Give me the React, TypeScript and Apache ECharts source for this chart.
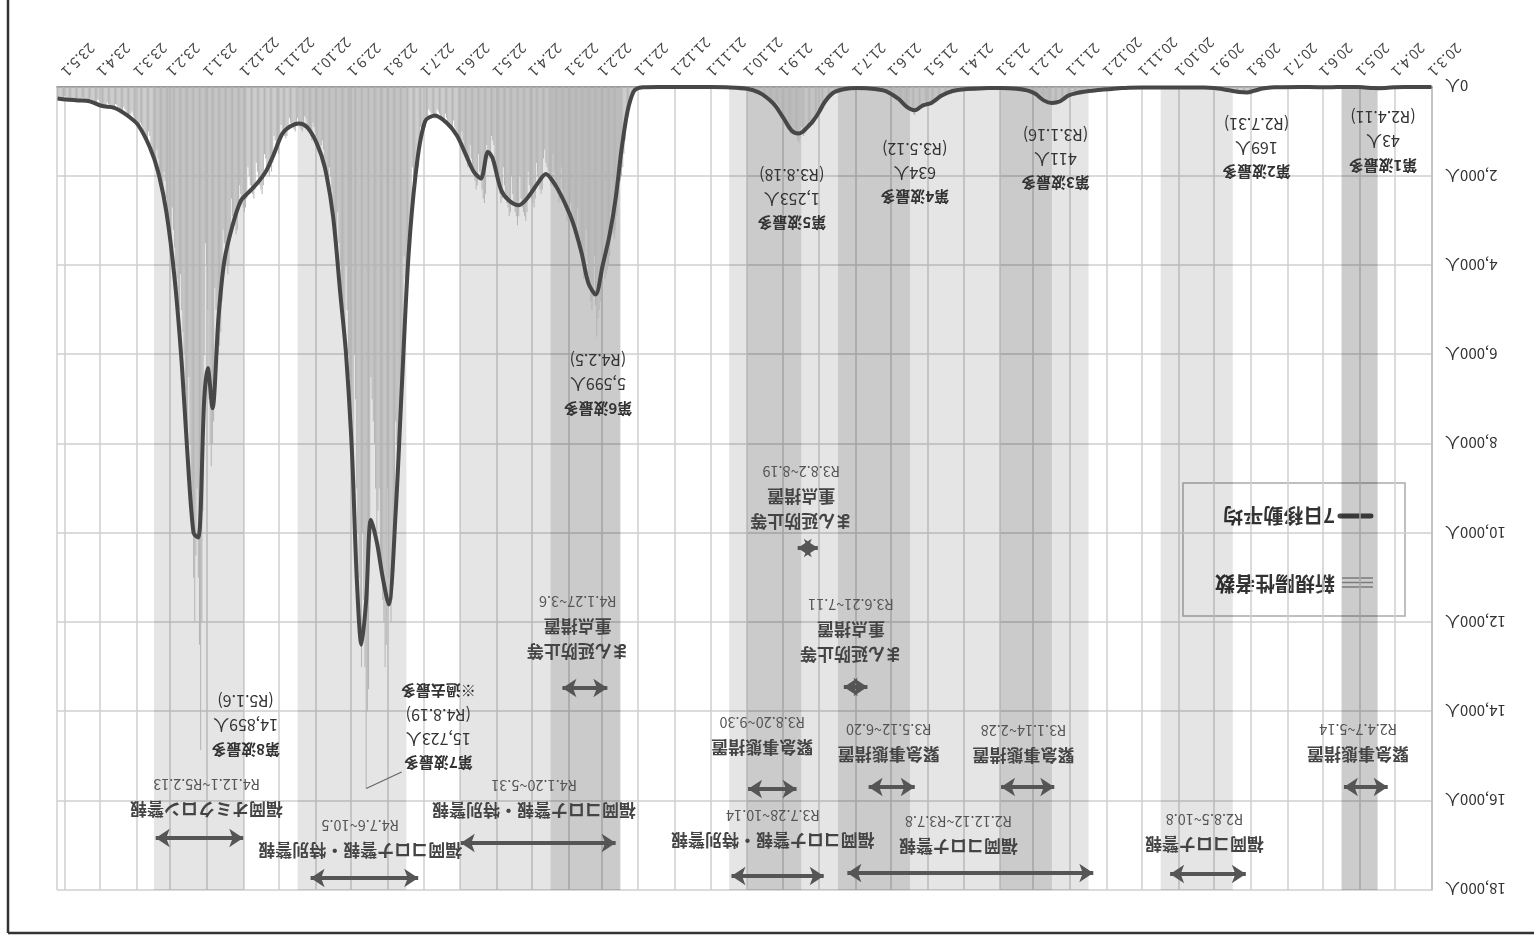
import React, { useEffect, useRef } from "react";
import * as echarts from "echarts";

// ---------- axis range ----------
const START_DATE = "2020-03-01";
const END_DATE = "2023-05-07";
const Y_MAX = 18000;
const Y_STEP = 2000;

// ---------- daily new cases (新規陽性者数), one array per month ----------
const c2020_03 = [0,0,0,0,0,1,0,0,0,1,0,0,0,1,0,0,0,0,1,2,1,0,1,0,2,3,2,4,3,2,6];
const c2020_04 = [10,15,20,18,25,22,30,28,35,38,43,30,20,25,28,22,18,20,15,12,14,10,8,9,6,5,4,3,2,3];
const c2020_05 = [2,1,1,0,1,0,0,1,0,0,0,0,0,0,0,0,0,0,0,0,0,0,2,5,8,12,10,8,6,5,4];
const c2020_06 = [3,4,6,5,3,2,2,3,4,3,2,2,1,1,0,2,1,1,0,0,1,1,0,0,1,0,1,1,2,1];
const c2020_07 = [1,2,1,2,3,2,4,5,6,5,8,10,12,9,15,20,25,22,30,40,38,45,55,60,70,80,90,110,120,140,169];
const c2020_08 = [150,130,125,140,120,110,130,115,90,70,95,100,85,80,75,70,55,60,65,50,45,40,35,42,30,28,25,30,22,18,20];
const c2020_09 = [15,12,18,10,8,12,9,6,10,12,8,7,5,9,8,6,10,12,8,6,5,7,9,10,8,7,6,8,9,10];
const c2020_10 = [8,12,10,6,8,11,9,14,10,12,8,7,13,11,15,12,9,10,14,12,11,10,8,13,9,12,10,16,14,11,12];
const c2020_11 = [9,8,12,15,18,14,12,10,16,20,22,18,25,20,18,22,28,30,35,32,30,28,40,45,50,55,48,42,38,50];
const c2020_12 = [60,72,65,55,58,50,62,78,80,75,70,85,82,90,95,105,100,110,115,108,120,130,125,140,155,150,135,145,160,170,180];
const c2021_01 = [200,220,210,180,250,300,320,340,350,360,280,320,380,400,405,411,330,280,300,310,290,250,220,200,180,160,150,140,120,110,100];
const c2021_02 = [80,90,85,75,70,60,55,50,60,45,40,38,35,42,30,28,35,32,26,24,22,28,20,18,22,25,20,18];
const c2021_03 = [15,20,22,18,25,28,24,20,30,26,32,28,35,30,25,28,36,40,35,30,38,42,45,40,35,48,50,55,52,48,60];
const c2021_04 = [58,65,70,62,55,80,90,85,100,110,95,120,130,150,160,180,200,190,230,260,280,300,320,350,330,360,390,400,380,420];
const c2021_05 = [400,380,350,330,420,450,480,500,470,520,550,634,600,560,520,480,400,420,380,350,320,300,260,240,220,200,180,160,150,130,120];
const c2021_06 = [110,100,95,85,80,70,65,60,55,50,45,48,40,38,35,32,30,35,28,25,24,22,26,20,22,24,20,25,28,30];
const c2021_07 = [30,35,38,40,32,35,45,50,55,48,42,60,70,80,95,100,110,130,120,150,180,220,250,280,260,320,400,480,520,560,600];
const c2021_08 = [620,580,700,750,800,850,820,780,760,900,950,1000,1050,1100,950,900,1150,1253,1200,1100,1050,1000,900,950,1050,1000,880,800,700,650,600];
const c2021_09 = [550,520,500,420,380,350,400,380,330,300,280,250,200,220,190,160,150,130,110,100,90,85,75,70,60,55,50,45,40,35];
const c2021_10 = [30,25,22,20,18,16,15,14,12,10,11,9,8,10,8,7,6,5,6,4,5,4,3,4,3,2,3,2,1,2,1];
const c2021_11 = [1,2,1,0,1,2,1,0,1,1,2,0,1,0,1,2,1,0,1,1,0,2,1,1,0,1,2,1,0,1];
const c2021_12 = [1,0,1,2,1,0,1,1,2,1,0,1,2,1,1,0,2,1,1,2,3,2,4,3,5,6,8,10,15,20,30];
const c2022_01 = [25,30,40,80,150,250,350,400,500,700,900,1200,1500,1800,2000,2100,1800,2500,2900,3200,3400,3300,3000,2800,3800,4000,4100,4200,4300,3900,3500];
const c2022_02 = [4400,4800,5000,5200,5599,4900,3800,4700,5000,4800,4500,4200,3900,3200,4100,4300,4000,3700,3400,3300,2700,3200,3400,3300,3100,2900,2600,2300];
const c2022_03 = [2900,3000,2800,2700,2500,2300,1800,2500,2600,2400,2300,2100,1900,1500,2100,2200,2100,1900,1800,1700,1400,1600,2300,2400,2300,2200,2000,1700,2500,2700,2600];
const c2022_04 = [2500,2400,2200,1900,2800,3000,2900,2800,2700,2500,2000,2900,3100,2900,2800,2600,2400,2000,2800,2900,2700,2600,2400,2200,1800,2500,2600,2400,2200,2000];
const c2022_05 = [1800,1600,1300,1200,1100,1500,1600,1400,1300,2400,2600,2500,2300,2100,1900,1500,2200,2300,2100,1900,1800,1600,1300,1700,1800,1600,1500,1400,1200,1000,1300];
const c2022_06 = [1300,1200,1100,1000,900,750,1000,950,900,850,800,700,600,800,750,700,650,600,550,500,700,700,650,600,600,550,500,700,800,900];
const c2022_07 = [1000,1100,1000,900,1500,1800,1900,2000,2200,2100,1800,3000,3500,4000,4200,4500,4300,3800,6000,7000,7500,8000,8500,8000,7500,10500,11000,11500,12000,11500,11000];
const c2022_08 = [9000,12500,13000,12000,11500,11000,10500,9000,9500,10000,9000,8000,7500,7000,6500,10000,13500,14000,15723,13000,11500,10000,13000,12500,11000,10000,9000,7000,6000,9000,8500];
const c2022_09 = [7500,6500,6000,5000,4000,6000,5500,5000,4500,4000,3500,2800,3500,3300,3000,2700,2300,2000,1800,2200,2000,1900,1600,1400,1200,1300,1500,1400,1200,1100];
const c2022_10 = [1000,900,800,1200,1100,1000,950,900,700,650,900,1000,950,900,850,700,800,1000,950,900,850,800,700,900,1100,1150,1100,1050,1000,850,1200];
const c2022_11 = [1500,1400,1300,1200,1100,1700,1900,1800,2000,1900,1800,1600,1500,2200,2400,2300,2200,2100,1900,1700,2300,2500,2400,2300,2200,2000,1800,2500,2700,2800];
const c2022_12 = [2700,2600,2400,2200,2800,3200,3300,3100,3000,2900,2500,3400,4000,4200,4000,3800,3500,3200,4800,5500,5800,6000,5500,5000,4500,7500,8000,8500,8000,7000,5000];
const c2023_01 = [4000,3500,6000,9500,12000,14859,12500,11000,9000,10500,12000,11000,10000,9000,8000,6500,8000,7500,6800,6000,5500,5000,4200,5000,4800,4300,4000,3600,3200,2700,3500];
const c2023_02 = [3300,3000,2800,2500,2100,1900,2500,2300,2100,1900,1600,1400,1800,1700,1600,1400,1300,1100,1000,1300,1200,1100,1000,900,850,800,900,850];
const c2023_03 = [800,750,700,650,550,600,700,650,600,550,500,450,550,600,550,500,450,400,380,450,500,480,450,420,380,350,400,450,420,400,380];
const c2023_04 = [350,300,280,350,380,360,340,300,260,320,350,330,310,290,260,240,300,340,330,310,290,270,250,300,330,320,300,280,240,220];
const c2023_05 = [200,250,260,240,220,300,280];

const monthlyCases: [string, number[]][] = [
  ["2020-03", c2020_03], ["2020-04", c2020_04], ["2020-05", c2020_05], ["2020-06", c2020_06],
  ["2020-07", c2020_07], ["2020-08", c2020_08], ["2020-09", c2020_09], ["2020-10", c2020_10],
  ["2020-11", c2020_11], ["2020-12", c2020_12], ["2021-01", c2021_01], ["2021-02", c2021_02],
  ["2021-03", c2021_03], ["2021-04", c2021_04], ["2021-05", c2021_05], ["2021-06", c2021_06],
  ["2021-07", c2021_07], ["2021-08", c2021_08], ["2021-09", c2021_09], ["2021-10", c2021_10],
  ["2021-11", c2021_11], ["2021-12", c2021_12], ["2022-01", c2022_01], ["2022-02", c2022_02],
  ["2022-03", c2022_03], ["2022-04", c2022_04], ["2022-05", c2022_05], ["2022-06", c2022_06],
  ["2022-07", c2022_07], ["2022-08", c2022_08], ["2022-09", c2022_09], ["2022-10", c2022_10],
  ["2022-11", c2022_11], ["2022-12", c2022_12], ["2023-01", c2023_01], ["2023-02", c2023_02],
  ["2023-03", c2023_03], ["2023-04", c2023_04], ["2023-05", c2023_05],
];

// ---------- 7-day moving average (7日移動平均), read at sample dates ----------
const movingAverage: [string, number][] = [
  ["2020-03-01", 0], ["2020-03-20", 1], ["2020-03-31", 5], ["2020-04-07", 18], ["2020-04-14", 30],
  ["2020-04-21", 20], ["2020-04-28", 8], ["2020-05-07", 1], ["2020-05-20", 0], ["2020-05-28", 6],
  ["2020-06-05", 4], ["2020-06-20", 1], ["2020-07-05", 3], ["2020-07-15", 12], ["2020-07-22", 35],
  ["2020-07-29", 85], ["2020-08-04", 125], ["2020-08-11", 110], ["2020-08-18", 80], ["2020-08-25", 45],
  ["2020-09-01", 25], ["2020-09-15", 9], ["2020-10-01", 9], ["2020-10-15", 11], ["2020-11-01", 12],
  ["2020-11-15", 20], ["2020-11-25", 40], ["2020-12-05", 62], ["2020-12-15", 90], ["2020-12-25", 130],
  ["2021-01-02", 190], ["2021-01-09", 320], ["2021-01-16", 360], ["2021-01-23", 300], ["2021-01-30", 150],
  ["2021-02-06", 75], ["2021-02-15", 40], ["2021-02-28", 22], ["2021-03-15", 30], ["2021-03-31", 48],
  ["2021-04-10", 90], ["2021-04-20", 200], ["2021-04-28", 360], ["2021-05-05", 410], ["2021-05-12", 520],
  ["2021-05-19", 440], ["2021-05-26", 260], ["2021-06-05", 100], ["2021-06-15", 45], ["2021-06-30", 25],
  ["2021-07-10", 45], ["2021-07-20", 130], ["2021-07-27", 330], ["2021-08-03", 650], ["2021-08-10", 880],
  ["2021-08-18", 1040], ["2021-08-24", 980], ["2021-08-31", 700], ["2021-09-07", 420], ["2021-09-14", 240],
  ["2021-09-21", 120], ["2021-09-30", 45], ["2021-10-15", 10], ["2021-11-01", 2], ["2021-12-01", 1],
  ["2021-12-25", 5], ["2022-01-01", 25], ["2022-01-05", 110], ["2022-01-10", 550], ["2022-01-15", 1400],
  ["2022-01-20", 2500], ["2022-01-25", 3300], ["2022-01-31", 4000], ["2022-02-06", 4650], ["2022-02-12", 4400],
  ["2022-02-18", 3700], ["2022-02-25", 3050], ["2022-03-04", 2600], ["2022-03-12", 2200], ["2022-03-20", 1950],
  ["2022-03-28", 2200], ["2022-04-05", 2500], ["2022-04-12", 2650], ["2022-04-20", 2550], ["2022-04-27", 2300],
  ["2022-05-04", 1600], ["2022-05-08", 1450], ["2022-05-14", 2050], ["2022-05-20", 1900], ["2022-05-27", 1500],
  ["2022-06-03", 1100], ["2022-06-12", 800], ["2022-06-22", 640], ["2022-06-30", 760], ["2022-07-07", 1700],
  ["2022-07-14", 3700], ["2022-07-20", 6800], ["2022-07-25", 9500], ["2022-07-31", 11600], ["2022-08-05", 11000],
  ["2022-08-10", 10200], ["2022-08-15", 9700], ["2022-08-19", 11500], ["2022-08-23", 12500], ["2022-08-27", 11000],
  ["2022-08-31", 8200], ["2022-09-05", 6000], ["2022-09-10", 4600], ["2022-09-16", 2900], ["2022-09-23", 1800],
  ["2022-09-30", 1250], ["2022-10-08", 900], ["2022-10-15", 820], ["2022-10-22", 880], ["2022-10-29", 1050],
  ["2022-11-05", 1500], ["2022-11-12", 1900], ["2022-11-19", 2150], ["2022-11-26", 2350], ["2022-12-03", 2550],
  ["2022-12-10", 3100], ["2022-12-17", 3900], ["2022-12-22", 5200], ["2022-12-27", 7200], ["2022-12-31", 6300],
  ["2023-01-03", 7000], ["2023-01-08", 10100], ["2023-01-12", 10000], ["2023-01-17", 8300], ["2023-01-22", 6200],
  ["2023-01-28", 4300], ["2023-02-04", 2800], ["2023-02-11", 1900], ["2023-02-18", 1350], ["2023-02-28", 850],
  ["2023-03-10", 620], ["2023-03-20", 470], ["2023-03-31", 420], ["2023-04-10", 320], ["2023-04-20", 300],
  ["2023-04-30", 280], ["2023-05-07", 260],
];

// ---------- periods ----------
const alertPeriods = [
  { title: ["福岡コロナ警報"], range: "R2.8.5~10.8", start: "2020-08-05", end: "2020-10-08" },
  { title: ["福岡コロナ警報"], range: "R2.12.12~R3.7.8", start: "2020-12-12", end: "2021-07-08" },
  { title: ["福岡コロナ警報・特別警報"], range: "R3.7.28~10.14", start: "2021-07-28", end: "2021-10-14" },
  { title: ["福岡コロナ警報・特別警報"], range: "R4.1.20~5.31", start: "2022-01-20", end: "2022-05-31" },
  { title: ["福岡コロナ警報・特別警報"], range: "R4.7.6~10.5", start: "2022-07-06", end: "2022-10-05" },
  { title: ["福岡オミクロン警報"], range: "R4.12.1~R5.2.13", start: "2022-12-01", end: "2023-02-13" },
];
const measurePeriods = [
  { title: ["緊急事態措置"], range: "R2.4.7~5.14", start: "2020-04-07", end: "2020-05-14" },
  { title: ["緊急事態措置"], range: "R3.1.14~2.28", start: "2021-01-14", end: "2021-02-28" },
  { title: ["緊急事態措置"], range: "R3.5.12~6.20", start: "2021-05-12", end: "2021-06-20" },
  { title: ["まん延防止等", "重点措置"], range: "R3.6.21~7.11", start: "2021-06-21", end: "2021-07-11" },
  { title: ["まん延防止等", "重点措置"], range: "R3.8.2~8.19", start: "2021-08-02", end: "2021-08-19" },
  { title: ["緊急事態措置"], range: "R3.8.20~9.30", start: "2021-08-20", end: "2021-09-30" },
  { title: ["まん延防止等", "重点措置"], range: "R4.1.27~3.6", start: "2022-01-27", end: "2022-03-06" },
];
const waveRecords = [
  { lines: ["第1波最多", "43人", "(R2.4.11)"] },
  { lines: ["第2波最多", "169人", "(R2.7.31)"] },
  { lines: ["第3波最多", "411人", "(R3.1.16)"] },
  { lines: ["第4波最多", "634人", "(R3.5.12)"] },
  { lines: ["第5波最多", "1,253人", "(R3.8.18)"] },
  { lines: ["第6波最多", "5,599人", "(R4.2.5)"] },
  { lines: ["第7波最多", "15,723人", "(R4.8.19)", "※過去最多"] },
  { lines: ["第8波最多", "14,859人", "(R5.1.6)"] },
];

// ---------- annotation layout (anchor date, text centre value, arrow value) ----------
const alertLayout = [
  { at: "2020-09-09", textY: 16722, arrowY: 17641 },
  { at: "2021-04-05", textY: 16767, arrowY: 17619 },
  { at: "2021-09-09", textY: 16632, arrowY: 17686 },
  { at: "2022-03-30", textY: 15949, arrowY: 16946 },
  { at: "2022-08-24", textY: 16857, arrowY: 17731 },
  { at: "2023-01-01", textY: 15927, arrowY: 16834 },
];
const measureLayout = [
  { at: "2020-05-02", textY: 14694, arrowY: 15691 },
  { at: "2021-02-09", textY: 14727, arrowY: 15691 },
  { at: "2021-06-03", textY: 14716, arrowY: 15691 },
  { at: "2021-07-05", textY: 12172, arrowY: 13450 },
  { at: "2021-08-16", textY: 9191, arrowY: 10334 },
  { at: "2021-09-18", textY: 14559, arrowY: 15736 },
  { at: "2022-02-21", textY: 12127, arrowY: 13472 },
];
const waveLayout = [
  { at: "2020-04-11", textY: 1233 },
  { at: "2020-07-27", textY: 1379 },
  { at: "2021-01-13", textY: 1636 },
  { at: "2021-05-12", textY: 1939 },
  { at: "2021-08-24", textY: 2533 },
  { at: "2022-02-04", textY: 6691 },
  { at: "2022-06-19", textY: 14358 },
  { at: "2022-11-29", textY: 14324 },
];
const leader = { from: ["2022-07-20", 15355], to: ["2022-08-19", 15723] };

// ---------- helpers ----------
const DAY = 86400000;
function utc(iso: string) {
  const [y, m, d] = iso.split("-").map(Number);
  return Date.UTC(y, m - 1, d);
}
function label(iso: string) {
  const dt = new Date(utc(iso));
  return `${String(dt.getUTCFullYear()).slice(2)}.${dt.getUTCMonth() + 1}.${dt.getUTCDate()}`;
}
function isMonthStart(_i: number, v: string) {
  return String(v).split(".")[2] === "1";
}

const FONT = "'Noto Sans CJK JP', 'Noto Sans', sans-serif";

function buildOption() {
  const cats: string[] = [];
  const bars: number[] = [];
  const byMonth: Record<string, number[]> = {};
  monthlyCases.forEach(([k, arr]) => (byMonth[k] = arr));
  for (let t = utc(START_DATE); t <= utc(END_DATE); t += DAY) {
    const dt = new Date(t);
    const key = `${dt.getUTCFullYear()}-${String(dt.getUTCMonth() + 1).padStart(2, "0")}`;
    cats.push(`${String(dt.getUTCFullYear()).slice(2)}.${dt.getUTCMonth() + 1}.${dt.getUTCDate()}`);
    const arr = byMonth[key] || [];
    bars.push(arr[dt.getUTCDate() - 1] ?? 0);
  }
  const lineData = movingAverage.map(([d, v]) => [label(d), v]);

  const bandLight = "rgba(0,0,0,0.10)";
  const bandDark = "rgba(0,0,0,0.115)";
  const bands: any[] = [];
  alertPeriods.forEach((p) =>
    bands.push([{ xAxis: label(p.start), itemStyle: { color: bandLight } }, { xAxis: label(p.end) }])
  );
  measurePeriods.forEach((p, i) =>
    bands.push([
      { xAxis: label(p.start), itemStyle: { color: i === 0 ? "rgba(0,0,0,0.2)" : bandDark } },
      { xAxis: label(p.end) },
    ])
  );

  const arrows: any[] = [];
  const texts: any[] = [];
  const periodText = (p: any) =>
    [...p.title.map((t: string) => `{t|${t}}`), `{d|${p.range}}`].join("\n");
  alertPeriods.forEach((p, i) => {
    const L = alertLayout[i];
    arrows.push([{ coord: [label(p.start), L.arrowY] }, { coord: [label(p.end), L.arrowY] }]);
    texts.push({ coord: [label(L.at), L.textY], value: 0, label: { formatter: periodText(p) } });
  });
  measurePeriods.forEach((p, i) => {
    const L = measureLayout[i];
    arrows.push([{ coord: [label(p.start), L.arrowY] }, { coord: [label(p.end), L.arrowY] }]);
    texts.push({ coord: [label(L.at), L.textY], value: 0, label: { formatter: periodText(p) } });
  });
  waveRecords.forEach((w, i) => {
    const L = waveLayout[i];
    const f = w.lines
      .map((s, j) => (j === 0 || s.startsWith("※") ? `{w|${s}}` : `{n|${s}}`))
      .join("\n");
    texts.push({ coord: [label(L.at), L.textY], value: 0, label: { formatter: f } });
  });
  arrows.push([
    {
      coord: [label(leader.from[0] as string), leader.from[1]],
      symbol: "none",
      lineStyle: { width: 1.2, color: "#666" },
    },
    { coord: [label(leader.to[0] as string), leader.to[1]], symbol: "none" },
  ]);

  return {
    animation: false,
    textStyle: { fontFamily: FONT },
    grid: { left: 102, right: 57, top: 51, bottom: 87, containLabel: false },
    xAxis: {
      type: "category",
      data: cats,
      boundaryGap: true,
      axisLine: { lineStyle: { color: "#888", width: 1.5 } },
      axisTick: { interval: isMonthStart, length: 7, lineStyle: { color: "#888" } },
      axisLabel: { interval: isMonthStart, rotate: 45, fontSize: 14.5, color: "#444", margin: 12, fontFamily: FONT },
      splitLine: { show: true, interval: isMonthStart, lineStyle: { color: "#cfcfcf", width: 1.5 } },
    },
    yAxis: {
      type: "value",
      min: 0,
      max: Y_MAX,
      interval: Y_STEP,
      axisLine: { show: true, lineStyle: { color: "#bbb", width: 1.5 } },
      axisTick: { show: false },
      axisLabel: {
        margin: 13,
        fontSize: 15,
        color: "#333",
        fontFamily: FONT,
        formatter: (v: number) => `${v.toLocaleString("en-US")}人`,
      },
      splitLine: { lineStyle: { color: "#cfcfcf", width: 1.5 } },
    },
    series: [
      {
        name: "新規陽性者数",
        type: "bar",
        data: bars,
        barWidth: 0.6,
        itemStyle: { color: "#b4b4b4" },
        silent: true,
        z: 2,
        markArea: { silent: true, data: bands },
      },
      {
        name: "7日移動平均",
        type: "line",
        data: lineData,
        showSymbol: false,
        symbol: "none",
        smooth: 0.3,
        lineStyle: { color: "#474747", width: 4 },
        z: 3,
        silent: true,
        markLine: {
          silent: true,
          symbol: ["arrow", "arrow"],
          symbolSize: 14,
          lineStyle: { color: "#555", width: 4, type: "solid" },
          label: { show: false },
          data: arrows,
        },
        markPoint: {
          silent: true,
          symbol: "circle",
          symbolSize: 1,
          itemStyle: { color: "rgba(0,0,0,0)" },
          label: {
            show: true,
            position: "inside",
            align: "center",
            verticalAlign: "middle",
            fontFamily: FONT,
            rich: {
              t: { fontSize: 17, fontWeight: "bold", color: "#444", lineHeight: 25, fontFamily: FONT },
              d: { fontSize: 14.5, color: "#555", lineHeight: 25, fontFamily: FONT },
              w: { fontSize: 15, fontWeight: "bold", color: "#333", lineHeight: 24, fontFamily: FONT },
              n: { fontSize: 16, color: "#333", lineHeight: 24, fontFamily: FONT },
            },
          },
          data: texts,
        },
      },
    ],
    graphic: [
      // frame of the scanned page
      { type: "line", z: 100, shape: { x1: 0, y1: 8, x2: 1526, y2: 8 }, style: { stroke: "#333", lineWidth: 2.5 } },
      { type: "line", z: 100, shape: { x1: 1526, y1: 8, x2: 1526, y2: 941 }, style: { stroke: "#333", lineWidth: 2.5 } },
      // legend
      {
        type: "group",
        z: 100,
        children: [
          { type: "rect", shape: { x: 129, y: 325, width: 222, height: 133 }, style: { fill: "#fff", stroke: "#aaa", lineWidth: 1.5 } },
          { type: "line", shape: { x1: 161, y1: 354, x2: 192, y2: 354 }, style: { stroke: "#999", lineWidth: 1.5 } },
          { type: "line", shape: { x1: 161, y1: 358.5, x2: 192, y2: 358.5 }, style: { stroke: "#999", lineWidth: 1.5 } },
          { type: "line", shape: { x1: 161, y1: 363, x2: 192, y2: 363 }, style: { stroke: "#999", lineWidth: 1.5 } },
          {
            type: "text",
            x: 199,
            y: 356,
            style: { text: "新規陽性者数", fill: "#333", font: `bold 20px ${FONT}`, verticalAlign: "middle" },
          },
          { type: "line", shape: { x1: 163, y1: 425, x2: 194, y2: 425 }, style: { stroke: "#474747", lineWidth: 5, lineCap: "round" } },
          {
            type: "text",
            x: 199,
            y: 424,
            style: { text: "7日移動平均", fill: "#333", font: `bold 20px ${FONT}`, verticalAlign: "middle" },
          },
        ],
      },
    ],
  };
}

export default function App() {
  const ref = useRef<HTMLDivElement>(null);
  useEffect(() => {
    if (!ref.current) return;
    const chart = echarts.init(ref.current, null, { renderer: "svg" });
    chart.setOption(buildOption() as any);
    return () => chart.dispose();
  }, []);
  return (
    <div
      style={{
        position: "fixed",
        left: 0,
        top: 0,
        width: 1534,
        height: 941,
        background: "#fff",
        transform: "rotate(180deg)",
      }}
    >
      <div ref={ref} style={{ width: 1534, height: 941 }} />
    </div>
  );
}
